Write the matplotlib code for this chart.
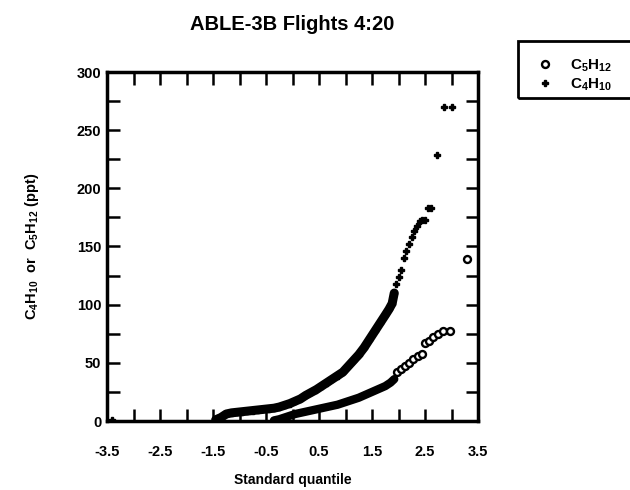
import numpy as np
import matplotlib
matplotlib.use("Agg")
import matplotlib.pyplot as plt
from matplotlib.lines import Line2D
from matplotlib.patches import Rectangle

plt.rcParams['font.family'] = ['Liberation Sans', 'DejaVu Sans']
plt.rcParams['font.weight'] = 'bold'
plt.rcParams['axes.labelweight'] = 'bold'
plt.rcParams['axes.titleweight'] = 'bold'
plt.rcParams['mathtext.fontset'] = 'custom'
plt.rcParams['mathtext.rm'] = 'Liberation Sans:bold'
plt.rcParams['mathtext.it'] = 'Liberation Sans:bold'
plt.rcParams['mathtext.bf'] = 'Liberation Sans:bold'
plt.rcParams['mathtext.default'] = 'bf'

# C4H10 (ppt) vs standard normal quantile
c4_q = [-3.40, -1.45, -1.35, -1.25, -1.15, -1.05, -0.95, -0.85, -0.75, -0.65,
        -0.55, -0.45, -0.35, -0.25, -0.15, -0.05, 0.05, 0.15, 0.25, 0.35,
        0.45, 0.55, 0.65, 0.75, 0.85, 0.95, 1.05, 1.15, 1.25, 1.35,
        1.45, 1.55, 1.65, 1.75, 1.82, 1.88, 1.92, 1.96, 2.00, 2.05,
        2.10, 2.15, 2.20, 2.25, 2.30, 2.35, 2.40, 2.45, 2.50, 2.56,
        2.62, 2.72, 2.86, 3.00]
c4_ppt = [1, 1, 3, 6, 7, 7.5, 8, 8.5, 9, 9.5,
          10, 10.5, 11, 12, 13.5, 15, 17, 19, 22, 24.5,
          27, 30, 33, 36, 39, 42, 47, 52, 57, 63,
          70, 77, 84, 91, 96, 101, 110, 118, 124, 130,
          140, 146, 152, 158, 163, 168, 172, 173, 173, 183,
          183, 229, 270, 270]

# C5H12 (ppt) vs standard normal quantile
c5_q = [-0.35, -0.25, -0.15, -0.05, 0.05, 0.15, 0.25, 0.35, 0.45, 0.55,
        0.65, 0.75, 0.85, 0.95, 1.05, 1.15, 1.25, 1.35, 1.45, 1.55,
        1.65, 1.75, 1.85, 1.92, 1.98, 2.05, 2.12, 2.20, 2.28, 2.36,
        2.44, 2.50, 2.58, 2.66, 2.74, 2.84, 2.98, 3.30]
c5_ppt = [0.5, 1.5, 3, 4.5, 6, 7, 8, 9, 10, 11,
          12, 13, 14, 15.5, 17, 18.5, 20, 22, 24, 26,
          28, 30, 33, 36, 42, 45, 47, 50, 53, 56,
          58, 67, 69, 72, 75, 77, 77, 139]

x_labels = ['-3.5', '-2.5', '-1.5', '-0.5', '0.5', '1.5', '2.5', '3.5']

W, H = 630, 490
fig = plt.figure(figsize=(6.3, 4.9), dpi=100)
ax = fig.add_axes([107 / W, 1 - 421 / H, (478 - 107) / W, (421 - 72) / H])

# dense part drawn as a band, tails as single markers
n4 = c4_q.index(1.92) + 1
n5 = c5_q.index(1.92) + 1
ax.plot(c4_q[1:n4], c4_ppt[1:n4], color='black', lw=6.5, solid_capstyle='round', zorder=2)
ax.plot(c5_q[:n5], c5_ppt[:n5], color='black', lw=6, solid_capstyle='round', zorder=2)
ax.plot(c4_q, c4_ppt, ls='none', marker='P', ms=4.5, color='black', zorder=3)
ax.plot(c5_q[n5:], c5_ppt[n5:], ls='none', marker='o', ms=5, mfc='white', mec='black', mew=1.7, zorder=3)

ax.set_xlim(-3.5, 3.5)
ax.set_ylim(0, 300)
ax.set_xticks(np.arange(-3.5, 3.6, 1.0))
ax.set_xticklabels(x_labels)
ax.set_xticks(np.arange(-3.0, 3.1, 1.0), minor=True)
ax.set_yticks(np.arange(0, 301, 50))
ax.set_yticks(np.arange(25, 300, 50), minor=True)
ax.tick_params(which='both', direction='in', top=True, right=True, length=9, width=1.8)
ax.tick_params(axis='x', pad=17, labelsize=10.5)
ax.tick_params(axis='y', pad=4, labelsize=10.5)
for s in ax.spines.values():
    s.set_linewidth(2.5)

ax.set_title('ABLE-3B Flights 4:20', fontsize=14.5, pad=30)
ax.set_xlabel('Standard quantile', fontsize=10, labelpad=10)
ax.set_ylabel(r'C$_4$H$_{10}$  or  C$_5$H$_{12}$ (ppt)', fontsize=10.5, labelpad=26)

# legend box, cut off by the right edge
fig.add_artist(Rectangle((518 / W, 1 - 98 / H), 130 / W, 57 / H, transform=fig.transFigure,
                         fill=False, lw=2, ec='black', clip_on=False))
handles = [Line2D([], [], ls='none', marker='o', ms=5, mfc='white', mec='black', mew=1.7),
           Line2D([], [], ls='none', marker='P', ms=5, color='black')]
fig.legend(handles, [r'C$_5$H$_{12}$', r'C$_4$H$_{10}$'], loc='upper left',
           bbox_to_anchor=(529 / W, 1 - 50 / H), frameon=False,
           prop={'weight': 'bold', 'size': 11},
           handlelength=1.1, handletextpad=1.1, labelspacing=0.15, borderpad=0)

fig.savefig('out.png', dpi=100)
